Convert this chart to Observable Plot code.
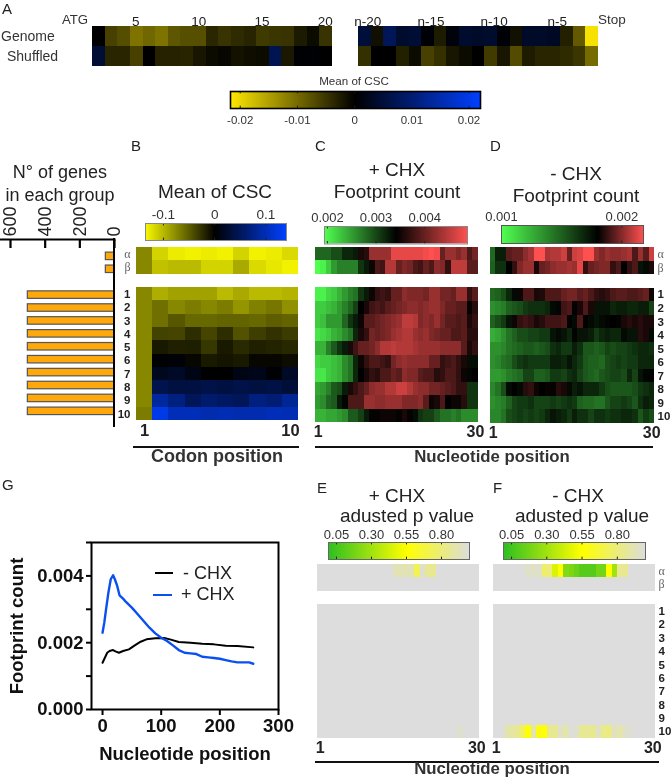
<!DOCTYPE html>
<html><head><meta charset="utf-8">
<script src="https://cdn.jsdelivr.net/npm/d3@7"></script>
<script src="https://cdn.jsdelivr.net/npm/@observablehq/plot@0.6"></script>
<style>
html,body{margin:0;padding:0;background:#fff}
#root{position:relative;width:671px;height:781px;overflow:hidden;font-family:"Liberation Sans",Arial,sans-serif;color:#222;filter:blur(.4px)}
.t{position:absolute;white-space:nowrap;line-height:1}
</style></head><body><div id="root"></div>
<script>
// ---------- panel A: mean CSC x 1000, codon positions 2-20 and n-20 .. stop-1
const startPos=[2,3,4,5,6,7,8,9,10,11,12,13,14,15,16,17,18,19,20];
const stopPos=["n-20","n-19","n-18","n-17","n-16","n-15","n-14","n-13","n-12","n-11","n-10","n-9","n-8","n-7","n-6","n-5","n-4","n-3","n-2"];
const aGenomeStart=[0,-6,-7.2,-10.8,-9.6,-10.8,-8,-7.4,-7.4,-3.6,-4.8,-4,-3.4,-5.4,-5,-4.8,-2.4,-1,-4.8];
const aShuffledStart=[4.5,-3.5,-3.5,-6,0,-3.2,-3.2,-3.4,-2,-1,-0.6,-1.6,-1.2,-1,7,-2.2,0.4,0.4,0];
const aGenomeStop=[5,-1.4,7.5,4,4.5,0.5,-2.5,1,4,3.5,4,0.5,-1.5,3.5,3.5,3,-3,-8.4,-21];
const aShuffledStop=[-4.5,0,0,-3,-1,-6,-4.5,-2,-1,0,-5.5,-2,-7,-2.5,-3.5,-3.5,-4,-5,-10];
const aRows=["Genome","Shuffled"];

// ---------- shared row groups
const groups=["α","β","1","2","3","4","5","6","7","8","9","10"];
const groupAxis=["α","β"," ","1","2","3","4","5","6","7","8","9","10"];
const greek=["α","β"];
const numbered=["1","2","3","4","5","6","7","8","9","10"];
const geneCounts=[50,50,500,500,500,500,500,500,500,500,500,500];
const countTicks=[600,400,200,0];

// ---------- panel B: mean CSC, in % of the colour-bar end
const codons=[1,2,3,4,5,6,7,8,9,10];
const bRows=[
[-55,-85,-95,-97,-95,-97,-85,-97,-95,-88],
[-55,-78,-75,-75,-85,-85,-68,-88,-93,-97],
[-55,-70,-65,-65,-65,-75,-68,-75,-75,-72],
[-55,-45,-55,-50,-55,-50,-60,-52,-48,-58],
[-55,-45,-35,-42,-42,-40,-40,-42,-38,-40],
[-55,-27,-28,-18,-28,-18,-33,-25,-20,-24],
[-55,-10,-13,-12,-22,-10,-17,-13,-14,-16],
[-55,1,3,-3,-10,-8,-10,-3,-3,-5],
[-55,12,15,8,0,0,8,10,2,15],
[-55,30,25,25,28,25,28,25,27,22],
[-55,62,50,35,42,38,35,50,45,58],
[-50,90,72,72,68,70,68,68,72,70]];

// ---------- panels C, D: footprint count, in % of the colour-bar end from its black point
const nts=[1,2,3,4,5,6,7,8,9,10,11,12,13,14,15,16,17,18,19,20,21,22,23,24,25,26,27,28,29,30];
const cRows=[
[-40,-40,-40,-30,-30,-15,-15,-10,10,15,60,60,60,60,90,90,90,90,90,90,95,100,95,40,60,60,50,60,30,45],
[-100,-95,-80,-60,-50,-50,-50,-50,-20,-10,5,30,25,70,70,40,50,45,30,25,40,30,55,50,20,75,75,75,35,35],
[-95,-95,-85,-80,-70,-60,-50,-45,-20,-10,5,20,25,20,40,40,55,50,50,50,45,60,60,45,45,40,60,60,20,35],
[-80,-80,-75,-70,-60,-50,-40,-25,0,10,25,30,25,35,40,45,50,55,55,50,55,60,60,50,40,40,35,35,2,15],
[-80,-75,-60,-60,-60,-40,-20,-10,5,35,35,40,45,50,55,60,75,75,70,50,55,50,60,45,35,35,30,35,10,20],
[-90,-85,-80,-70,-65,-55,-45,-15,10,20,45,40,45,50,60,65,70,70,60,55,60,50,45,40,40,30,30,35,15,15],
[-70,-70,-50,-35,-20,-10,10,25,40,40,45,55,70,70,75,70,70,70,65,60,60,60,60,55,55,55,55,35,10,20],
[-85,-80,-80,-75,-70,-55,-45,-15,5,20,30,30,25,20,45,55,60,55,55,55,55,40,40,20,25,30,20,10,-5,-5],
[-90,-90,-80,-75,-70,-55,-45,-15,0,10,20,15,30,30,40,35,55,50,50,35,30,30,15,20,30,30,20,5,-2,0],
[-65,-60,-50,-35,-30,-10,10,20,30,40,55,60,60,70,70,80,80,70,60,55,55,45,45,40,35,30,20,20,-20,-20],
[-60,-55,-40,-35,-10,-2,30,30,30,60,60,55,55,60,60,60,50,50,50,55,35,5,10,30,0,5,5,15,-20,-20],
[-70,-70,-65,-65,-60,-55,-35,-35,-25,-10,2,2,5,5,5,2,10,2,-5,-20,-25,-25,-35,-45,-45,-50,-45,-55,-55,-55]];
const dRows=[
[-55,-15,-15,35,40,40,55,65,100,100,65,70,70,80,40,80,85,100,100,60,50,60,55,55,60,65,30,60,35,80],
[-50,-25,-25,0,20,50,60,60,10,40,45,55,60,60,65,60,90,20,40,45,50,50,20,30,0,20,30,-10,-5,10],
[-55,-50,-40,-20,-5,5,30,30,10,12,30,30,30,40,45,45,35,40,30,20,15,20,30,35,35,30,30,35,40,5],
[-75,-70,-65,-50,-45,-40,-30,-25,-25,-25,-20,-5,-3,25,30,2,10,30,10,-10,-10,-10,-20,-15,-15,-20,-20,-15,-15,-35],
[-50,-40,-30,-10,5,20,25,20,10,15,25,25,25,30,0,-5,30,0,-5,-10,-5,-2,0,-2,10,15,10,15,10,10],
[-90,-85,-75,-60,-50,-40,-40,-35,-35,-30,-30,-10,-5,-10,-20,-2,-10,-10,-15,-30,-20,-15,-20,-20,-5,-10,-10,15,10,-5],
[-75,-75,-70,-60,-55,-50,-45,-45,-50,-45,-40,-25,-20,-30,-30,-15,-25,-45,-45,-50,-45,-35,-40,-35,-35,-30,-25,-20,-20,-25],
[-75,-70,-60,-55,-40,-30,-25,-30,-30,-30,-30,-15,-15,-20,-10,-20,-30,-45,-50,-50,-55,-40,-35,-30,-35,-30,-30,-20,-20,-20],
[-80,-80,-75,-65,-60,-55,-35,-35,-50,-50,-45,-30,-30,-35,-25,-20,-35,-45,-50,-55,-45,-40,-35,-35,-40,-20,-35,-10,-3,-2],
[-70,-60,-40,-5,0,-5,15,20,5,0,3,2,15,10,-5,-15,-10,-20,-20,-20,-30,-40,-45,-45,-45,-45,-40,-30,-25,-20],
[-75,-70,-65,-50,-35,-30,-30,-25,-35,-35,-35,-30,-35,-30,-25,-30,-50,-55,-55,-60,-60,-45,-35,-35,-30,-35,-45,-25,-15,-20],
[-70,-70,-60,-40,-35,-30,-35,-30,-35,-30,-20,-10,-15,-20,-30,-15,-25,-25,-35,-25,-25,-30,-25,-25,-20,-20,-25,-45,-30,-40]];

// ---------- panels E, F: adjusted p value
const pNone=[1,1,1,1,1,1,1,1,1,1,1,1,1,1,1,1,1,1,1,1,1,1,1,1,1,1,1,1,1,1];
const eAlpha=[1,1,1,1,1,1,1,1,1,1,1,1,1,1,.92,.92,.92,.92,.72,.98,.85,.85,1,1,1,1,1,1,1,1];
const eTen=[1,1,1,1,1,1,1,1,1,1,1,1,1,1,1,1,1,1,1,1,1,1,1,1,1,1,.97,1,1,1];
const fAlpha=[1,1,1,1,1,1,.96,.96,.96,.76,.8,.45,.55,.22,.2,.16,.1,.1,.1,.18,.18,.55,.3,.85,.85,1,1,1,1,1];
const fTen=[1,1,.92,.88,.85,.75,.55,.9,.6,.55,.85,.85,.95,.9,1,.97,.85,.85,.85,.95,.82,.82,.95,.9,.97,.98,1,1,1,1];
const eRows=[eAlpha,pNone,pNone,pNone,pNone,pNone,pNone,pNone,pNone,pNone,pNone,eTen];
const fRows=[fAlpha,pNone,pNone,pNone,pNone,pNone,pNone,pNone,pNone,pNone,pNone,fTen];

// ---------- panel G: footprint count by nucleotide position
const minusX=[0,4,8,12,18,22,28,35,45,55,65,75,90,105,115,130,150,170,190,210,230,257];
const minusY=[.0014,.00155,.0017,.00175,.00178,.00174,.0017,.00175,.0018,.00192,.00203,.0021,.00213,.00214,.0021,.00202,.002,.00197,.00195,.00191,.0019,.00186];
const plusX=[0,3,6,10,14,18,21,25,29,35,40,50,60,70,80,90,100,110,120,130,140,150,160,170,180,190,200,210,220,230,240,250,257];
const plusY=[.0023,.0026,.003,.0035,.0039,.00402,.0039,.0037,.00342,.00332,.00322,.00305,.00285,.00265,.00245,.00228,.00215,.00205,.00192,.00178,.0017,.00168,.00166,.00158,.00156,.00154,.00152,.00148,.00144,.00141,.00141,.00141,.00137];
const gXTicks=[0,100,200,300];
const gYTicks=[0,.001,.002,.003,.004,.005];

// ---------- colours
const ybk=["#ffe800","#000000","#0040ff"];
const ybkB=["#f8f800","#000000","#0040ff"];
const grk=["#50ff50","#000000","#ff5050"];
const gyg=["#30c020","#ffff00","#dcdddc"];

const root=document.getElementById("root");
const FONT='"Liberation Sans",Arial,sans-serif';
function place(node,left,top){node.style.position="absolute";node.style.left=left+"px";node.style.top=top+"px";root.appendChild(node);}
function label(text,x,base,size,opt={}){
  const d=document.createElement("div");d.className="t";d.textContent=text;
  d.style.fontSize=size+"px";
  if(opt.weight)d.style.fontWeight=opt.weight;
  if(opt.color)d.style.color=opt.color;
  d.style.left=x+"px";d.style.top=(base-size*0.8465)+"px";
  if(opt.center)d.style.transform="translateX(-50%)";
  root.appendChild(d);
}
function hline(x1,x2,y){const d=document.createElement("div");d.style.cssText=`position:absolute;left:${x1}px;top:${y-1}px;width:${x2-x1}px;height:2px;background:#111`;root.appendChild(d);}

function heat({left,top,width,height,cols,rows,rowNames,rowDomain,colorDomain,range,xTicks,xAnchor,xSize=16,xWeight="bold",xPad=3,xDx=0,rowLabels=false,mT=0,mB=0,mR=0}){
  const flat=rows.flatMap((vals,i)=>vals.map((v,j)=>({r:rowNames[i],c:cols[j],v})));
  const marks=[Plot.cell(flat,{x:"c",y:"r",fill:"v",shapeRendering:"crispEdges"})];
  if(xTicks)marks.push(Plot.axisX({anchor:xAnchor,ticks:xTicks,tickSize:0,tickPadding:xPad,dx:xDx,fontSize:xSize,fontWeight:xWeight,fill:"#222",label:null}));
  if(rowLabels){
    marks.push(Plot.text(greek,{y:d=>d,text:d=>d,frameAnchor:"right",textAnchor:"start",dx:3,fontFamily:"Liberation Serif",fontSize:12,fill:"#666"}));
    marks.push(Plot.text(numbered,{y:d=>d,text:d=>d,frameAnchor:"right",textAnchor:"start",dx:3,fontWeight:"bold",fontSize:11.5,fill:"#222"}));
  }
  const svg=Plot.plot({width:width+mR,height:height+mT+mB,marginLeft:0,marginRight:mR,marginTop:mT,marginBottom:mB,
    style:{fontFamily:FONT,background:"transparent",overflow:"visible"},
    x:{type:"band",domain:cols,padding:0,round:false,axis:null},
    y:{type:"band",domain:rowDomain,padding:0,round:false,axis:null},
    color:{type:"linear",domain:colorDomain,range,interpolate:"rgb",clamp:true},
    marks});
  place(svg,left,top-mT);
}
function legend({left,top,width,height,lo,hi,stops,range,ticks,format,anchor="top",stroke="#888",sw=1,fs=13,pad=4,tickStroke="#222"}){
  const step=(hi-lo)/width;
  const xs=d3.range(width).map(i=>lo+i*step);
  const mT=anchor==="top"?22:0,mB=anchor==="bottom"?22:0;
  const svg=Plot.plot({width,height:height+mT+mB,marginLeft:0,marginRight:0,marginTop:mT,marginBottom:mB,
    style:{fontFamily:FONT,background:"transparent",overflow:"visible"},
    x:{domain:[lo,hi]},y:{domain:[0,1],axis:null},
    color:{type:"linear",domain:stops,range,interpolate:"rgb",clamp:true},
    marks:[
      Plot.rect(xs,{x1:d=>d,x2:d=>d+step*1.6,y1:0,y2:1,fill:d=>d,clip:true}),
      Plot.ruleX(ticks,{y1:0,y2:.14,stroke:tickStroke}),
      Plot.ruleX(ticks,{y1:.86,y2:1,stroke:tickStroke}),
      Plot.frame({stroke,strokeWidth:sw}),
      Plot.axisX({anchor,ticks,tickFormat:format,tickSize:0,tickPadding:pad,fontSize:fs,fill:"#333",label:null})
    ]});
  place(svg,left,top-mT);
}

// ---------- A
const aColor=[-21.7,0,22];
heat({left:92,top:26,width:240,height:40,cols:startPos,rows:[aGenomeStart,aShuffledStart],rowNames:aRows,rowDomain:aRows,colorDomain:aColor,range:ybk,
  xTicks:[5,10,15,20],xAnchor:"top",xSize:13.5,xWeight:"normal",xPad:1,xDx:-1,mT:16});
heat({left:358,top:26,width:240,height:40,cols:stopPos,rows:[aGenomeStop,aShuffledStop],rowNames:aRows,rowDomain:aRows,colorDomain:aColor,range:ybk,
  xTicks:["n-20","n-15","n-10","n-5"],xAnchor:"top",xSize:13.5,xWeight:"normal",xPad:1,xDx:3,mT:16});
label("A",2,14,15);
label("ATG",62,24,13.2,{color:"#333"});
label("Stop",598,24,13.5,{color:"#333"});
label("Genome",1,41,14,{color:"#333"});
label("Shuffled",7,61,14,{color:"#333"});
label("Mean of CSC",354,85,11.6,{center:true,color:"#333"});
legend({left:230,top:91,width:250,height:17,lo:-.0217,hi:.022,stops:[-.0217,0,.022],range:ybk,ticks:[-.02,-.01,0,.01,.02],format:d=>String(d),anchor:"bottom",stroke:"#000",sw:1.6,fs:11.5,pad:7});

// ---------- bars
{
  const flat=groups.map((g,i)=>({g,n:geneCounts[i]}));
  const svg=Plot.plot({width:114,height:220,marginLeft:0,marginRight:0,marginTop:39,marginBottom:0,
    style:{fontFamily:FONT,background:"transparent",overflow:"visible"},
    x:{domain:[600,0],range:[10,114]},
    y:{type:"band",domain:groupAxis,round:false,padding:0.42,align:.5,range:[46.7,220],axis:null},
    marks:[
      Plot.barX(flat,{x:"n",y:"g",fill:"#ffa80c",stroke:"#555",strokeWidth:1.2}),
      Plot.axisX({anchor:"top",ticks:countTicks,tickSize:8,dy:8,strokeWidth:2.2,stroke:"#000",tickFormat:()=>"",label:null}),
      Plot.axisX({anchor:"top",ticks:countTicks,tickSize:0,tickPadding:3,tickRotate:-90,fontSize:18,fill:"#222",label:null,textAnchor:"start",tickFormat:d=>String(d)}),
      Plot.frame({anchor:"top",stroke:"#000",strokeWidth:2.2})
    ]});
  place(svg,0,200);
  const v=document.createElement("div");v.style.cssText="position:absolute;left:113px;top:238px;width:2.2px;height:189px;background:#000";root.appendChild(v);
  const svg2=Plot.plot({width:20,height:173.3,margin:0,
    style:{fontFamily:FONT,background:"transparent",overflow:"visible"},
    y:{type:"band",domain:groupAxis,padding:0,round:false,axis:null},
    marks:[
      Plot.text(greek,{y:d=>d,text:d=>d,frameAnchor:"right",textAnchor:"end",dx:0,fontFamily:"Liberation Serif",fontSize:12,fill:"#666"}),
      Plot.text(numbered,{y:d=>d,text:d=>d,frameAnchor:"right",textAnchor:"end",dx:0,fontWeight:"bold",fontSize:11.5,fill:"#222"})
    ]});
  place(svg2,110,246.7);
}
label("N° of genes",60,178,18,{center:true});
label("in each group",60,201,18,{center:true});

// ---------- B
heat({left:136,top:246.7,width:162,height:173.3,cols:codons,rows:bRows,rowNames:groups,rowDomain:groupAxis,colorDomain:[-100,0,100],range:ybkB,xTicks:[1,10],xAnchor:"bottom",xSize:16.5,mB:22});
label("B",131,151,15);
label("Mean of CSC",215,198,19,{center:true});
legend({left:145,top:223,width:141,height:17,lo:-.135,hi:.14,stops:[-.135,0,.14],range:ybkB,ticks:[-.1,0,.1],format:d=>String(d),fs:13.6,pad:5,tickStroke:"#222"});
hline(133,299,447);
label("Codon position",217,462,18,{center:true,weight:"bold",color:"#333"});

// ---------- C
heat({left:315,top:247,width:162.7,height:175,cols:nts,rows:cRows,rowNames:groups,rowDomain:groupAxis,colorDomain:[-100,0,100],range:grk,xTicks:[1,30],xAnchor:"bottom",mB:22});
label("C",315,151,15);
label("+ CHX",397,176,19,{center:true});
label("Footprint count",397,198,19,{center:true});
legend({left:324,top:226,width:143,height:17.5,lo:.00194,hi:.00488,stops:[.00194,.00341,.00488],range:grk,ticks:[.002,.003,.004],format:d3.format(".3f"),fs:13,pad:5});

// ---------- D
heat({left:490,top:247,width:164,height:175.7,cols:nts,rows:dRows,rowNames:groups,rowDomain:groupAxis,colorDomain:[-133,0,100],range:grk,xTicks:[1,30],xAnchor:"bottom",rowLabels:true,mB:22,mR:17});
label("D",490,151,15);
label("- CHX",576,180,19,{center:true});
label("Footprint count",576,202,19,{center:true});
legend({left:500.7,top:225,width:142,height:18,lo:.001,hi:.00218,stops:[.001,.0018,.00218],range:grk,ticks:[.001,.002],format:d3.format(".3f"),fs:13,pad:5,stroke:"#555"});
hline(315,653,447);
label("Nucleotide position",492,463,16.8,{center:true,weight:"bold",color:"#333"});

// ---------- E
heat({left:317,top:564,width:162,height:174,cols:nts,rows:eRows,rowNames:groups,rowDomain:groupAxis,colorDomain:[0,.55,1],range:gyg,xTicks:[1,30],xAnchor:"bottom",mB:22});
label("E",317,493,15);
label("+ CHX",397,502,19,{center:true});
label("adusted p value",407,522,19,{center:true});
legend({left:328,top:542,width:141,height:17,lo:-.007,hi:1,stops:[0,.55,1],range:gyg,ticks:[.05,.3,.55,.8],format:d3.format(".2f"),fs:13,pad:4,stroke:"#666"});

// ---------- F
heat({left:493,top:564,width:162,height:174,cols:nts,rows:fRows,rowNames:groups,rowDomain:groupAxis,colorDomain:[0,.55,1],range:gyg,xTicks:[1,30],xAnchor:"bottom",rowLabels:true,mB:22,mR:16});
label("F",493,493,15);
label("- CHX",578,502,19,{center:true});
label("adusted p value",582,522,19,{center:true});
legend({left:503,top:542,width:142,height:17,lo:-.007,hi:1,stops:[0,.55,1],range:gyg,ticks:[.05,.3,.55,.8],format:d3.format(".2f"),fs:13,pad:4,stroke:"#666"});
hline(315,659,762);
label("Nucleotide position",492,775,16.8,{center:true,weight:"bold",color:"#333"});

// ---------- G
{
  const minus=minusX.map((x,i)=>({x,y:minusY[i]}));
  const plus=plusX.map((x,i)=>({x,y:plusY[i]}));
  const svg=Plot.plot({width:300,height:261,marginLeft:91,marginRight:22,marginTop:22,marginBottom:72,
    style:{fontFamily:FONT,background:"transparent",overflow:"visible"},
    x:{domain:[-18.8,300]},y:{domain:[0,.005]},
    marks:[
      Plot.frame({stroke:"#000",strokeWidth:2}),
      Plot.axisX({ticks:gXTicks,tickSize:6,tickPadding:3,strokeWidth:2,stroke:"#000",fill:"#111",fontSize:18.5,fontWeight:"bold",label:"Nucleotide position",labelAnchor:"center",labelArrow:"none",labelOffset:50,tickFormat:d=>String(d)}),
      Plot.axisY({ticks:gYTicks,tickSize:5,tickPadding:3,strokeWidth:2,stroke:"#000",fill:"#111",fontSize:18.5,fontWeight:"bold",label:"Footprint count",labelAnchor:"center",labelArrow:"none",labelOffset:82,tickFormat:d=>Math.round(d*1000)%2===0?d.toFixed(3):""}),
      Plot.line(minus,{x:"x",y:"y",stroke:"#000",strokeWidth:2}),
      Plot.line(plus,{x:"x",y:"y",stroke:"#0a50f0",strokeWidth:2.4})
    ]});
  place(svg,0,520);
  label("G",2,490,15);
  const sw=(x1,x2,y,c)=>{const d=document.createElement("div");d.style.cssText=`position:absolute;left:${x1}px;top:${y-1}px;width:${x2-x1}px;height:2px;background:${c}`;root.appendChild(d);};
  sw(155,173,573,"#000");sw(153,172,595,"#0a50f0");
  label("- CHX",183,579,18);
  label("+ CHX",181,600,18);
}
</script></body></html>
